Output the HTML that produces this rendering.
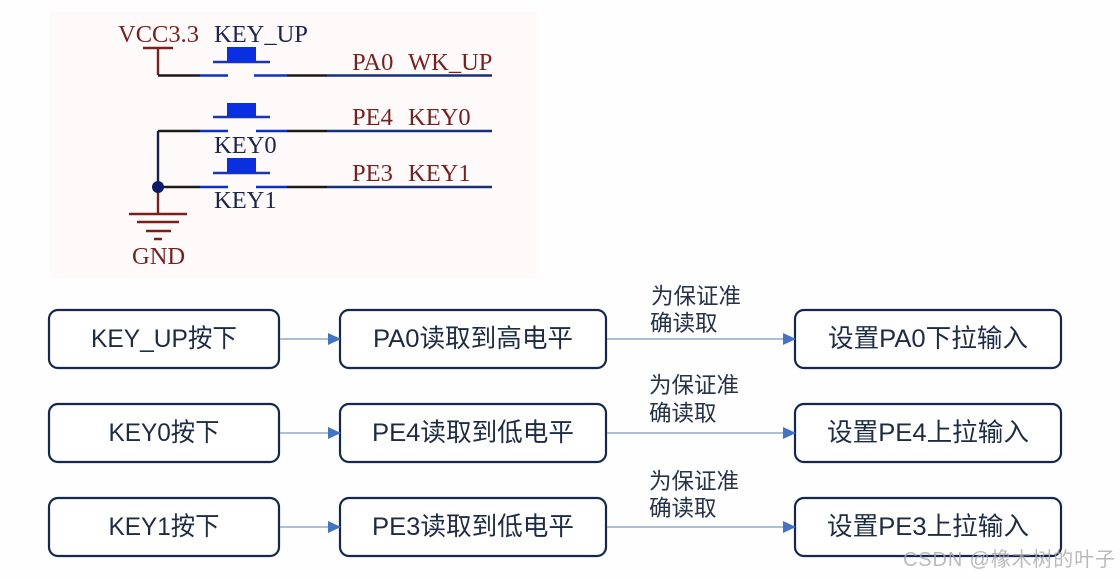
<!DOCTYPE html>
<html><head><meta charset="utf-8"><style>
html,body{margin:0;padding:0;background:#fefefe}
svg{display:block}
.s{font-family:"Liberation Serif",serif;font-size:24.5px}
.r{fill:#7a1f1f}.n{fill:#1c2450}
.b{fill:#fff;stroke:#14274e;stroke-width:2.2}
.t{font-family:"Liberation Sans","Noto Sans CJK SC",sans-serif;font-size:25.3px;fill:#1d2b45;text-anchor:middle}
.l{font-family:"Liberation Sans","Noto Sans CJK SC",sans-serif;font-size:22.5px;fill:#26324a}
.a{stroke:#7f97bd;stroke-width:1.2}
.h{fill:#4472c4}
</style></head><body>
<svg width="1120" height="579" viewBox="0 0 1120 579" xmlns="http://www.w3.org/2000/svg">
<rect width="1120" height="579" fill="#fefefe"/>
<rect x="50" y="12" width="487" height="266" fill="#fefafa"/>
<g fill="none" stroke-width="2.4">
<path d="M143 48H173M158 48V75" stroke="#7a1f1f"/>
<path d="M158 187V214M129 214H187M137 222H179M146 231H171M154 239H162" stroke="#7a1f1f"/>
<path d="M158 75.5H200M287 75.5H327M158 131H200M287 131H327M158 187H200M287 187H327" stroke="#1a1a1a"/>
<path d="M200 75.5H228M254 75.5H287M200 131H228M256 131H287M200 187H228M256 187H287" stroke="#0a2fd0"/>
<path d="M327 75.5H492M327 131H492M327 187H492" stroke="#16307f"/>
<path d="M158 131V187" stroke="#14204a"/>
<path d="M213 62H270M213 117H270M213 173H270" stroke="#1a35b0"/>
</g>
<g fill="#0a2fe0">
<rect x="227" y="47" width="29" height="15"/>
<rect x="227" y="103" width="29" height="14"/>
<rect x="227" y="158" width="29" height="15"/>
</g>
<circle cx="158" cy="187" r="6" fill="#0c1a6a"/>
<text class="s r" x="118" y="42">VCC3.3</text>
<text class="s n" x="214" y="42">KEY_UP</text>
<text class="s r" x="352" y="70">PA0</text>
<text class="s r" x="408" y="70">WK_UP</text>
<text class="s r" x="352" y="125">PE4</text>
<text class="s r" x="408" y="125">KEY0</text>
<text class="s n" x="214" y="153">KEY0</text>
<text class="s r" x="352" y="181">PE3</text>
<text class="s r" x="408" y="181">KEY1</text>
<text class="s n" x="214" y="208">KEY1</text>
<text class="s r" x="132" y="264">GND</text>

<g>
<rect class="b" x="49" y="310" width="230" height="58" rx="9"/>
<rect class="b" x="340" y="310" width="266" height="58" rx="9"/>
<rect class="b" x="795" y="310" width="266" height="58" rx="9"/>
<rect class="b" x="49" y="404" width="230" height="58" rx="9"/>
<rect class="b" x="340" y="404" width="266" height="58" rx="9"/>
<rect class="b" x="795" y="404" width="266" height="58" rx="9"/>
<rect class="b" x="49" y="498" width="230" height="58" rx="9"/>
<rect class="b" x="340" y="498" width="266" height="58" rx="9"/>
<rect class="b" x="795" y="498" width="266" height="58" rx="9"/>
</g>
<text class="t" x="164" y="347" textLength="146" lengthAdjust="spacingAndGlyphs">KEY_UP按下</text>
<text class="t" x="473" y="347" textLength="200" lengthAdjust="spacingAndGlyphs">PA0读取到高电平</text>
<text class="t" x="928" y="347" textLength="200" lengthAdjust="spacingAndGlyphs">设置PA0下拉输入</text>
<text class="t" x="164" y="441" textLength="111" lengthAdjust="spacingAndGlyphs">KEY0按下</text>
<text class="t" x="473" y="441" textLength="202" lengthAdjust="spacingAndGlyphs">PE4读取到低电平</text>
<text class="t" x="928" y="441" textLength="202" lengthAdjust="spacingAndGlyphs">设置PE4上拉输入</text>
<text class="t" x="164" y="535" textLength="111" lengthAdjust="spacingAndGlyphs">KEY1按下</text>
<text class="t" x="473" y="535" textLength="202" lengthAdjust="spacingAndGlyphs">PE3读取到低电平</text>
<text class="t" x="928" y="535" textLength="202" lengthAdjust="spacingAndGlyphs">设置PE3上拉输入</text>

<path class="a" d="M280 339H330M607 339H785M280 433H330M607 433H785M280 527H330M607 527H785"/>
<path class="h" d="M328 333L341 339L328 345ZM783 333L796 339L783 345ZM328 427L341 433L328 439ZM783 427L796 433L783 439ZM328 521L341 527L328 533ZM783 521L796 527L783 533Z"/>

<text class="l" x="651" y="304">为保证准</text>
<text class="l" x="650" y="331">确读取</text>
<text class="l" x="649" y="393">为保证准</text>
<text class="l" x="649" y="421">确读取</text>
<text class="l" x="649" y="489">为保证准</text>
<text class="l" x="649" y="516">确读取</text>

<text x="903" y="566" textLength="212" font-family="'Liberation Sans','Noto Sans CJK SC',sans-serif" font-size="20" fill="#a9a9a9" fill-opacity=".8">CSDN @橡木树的叶子</text>
</svg>
</body></html>
